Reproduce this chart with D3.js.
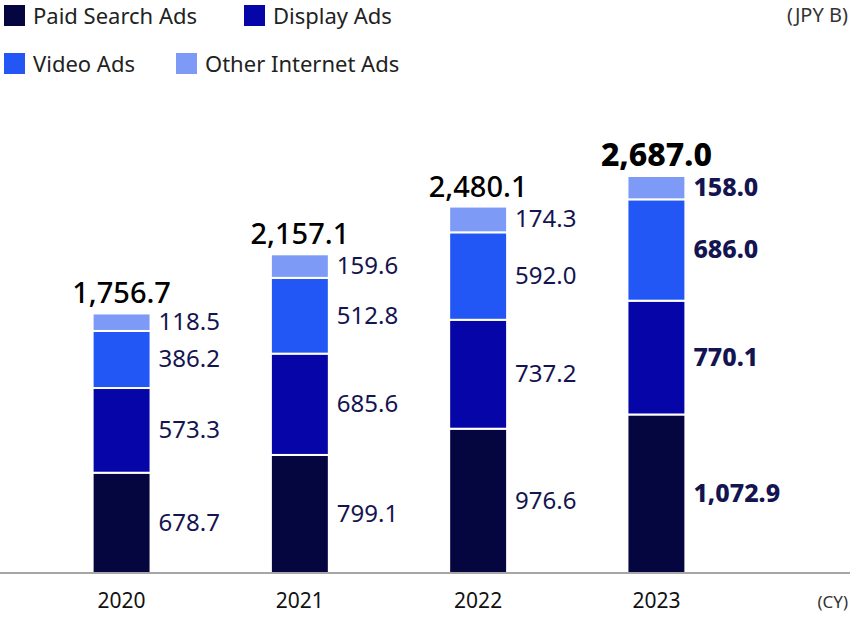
<!DOCTYPE html>
<html lang="en">
<head>
<meta charset="UTF-8">
<script src="https://d3js.org/d3.v7.min.js"></script>
<style>
  body { margin: 0; font-family: "Noto Sans", sans-serif; background: #fff; }
</style>
</head>
<body>
<svg id="chart" width="850" height="618"></svg>
<script>
// Data
const years = ["2020", "2021", "2022", "2023"];
const seriesNames = ["Paid Search Ads", "Display Ads", "Video Ads", "Other Internet Ads"];
const paidSearch = [678.7, 799.1, 976.6, 1072.9];
const display = [573.3, 685.6, 737.2, 770.1];
const video = [386.2, 512.8, 592.0, 686.0];
const other = [118.5, 159.6, 174.3, 158.0];
const totals = [1756.7, 2157.1, 2480.1, 2687.0];

const colors = ["#05053f", "#0505a8", "#2257f5", "#7d9bf6"];
const fmt = d3.format(",.1f");

const svg = d3.select("#chart");
const baseline = 573;

const x = d3.scaleBand().domain(years).range([32, 746]).paddingInner(0.675).paddingOuter(0.34);
const y = d3.scaleLinear().domain([0, 2687]).range([baseline, 176]);

const data = years.map((yr, i) => ({ year: yr, s0: paidSearch[i], s1: display[i], s2: video[i], s3: other[i] }));
const stacked = d3.stack().keys(["s0", "s1", "s2", "s3"])(data);

// Bars
stacked.forEach((layer, li) => {
  svg.append("g").attr("fill", colors[li])
    .selectAll("rect").data(layer).enter().append("rect")
    .attr("x", d => x(d.data.year))
    .attr("y", d => y(d[1]))
    .attr("width", x.bandwidth())
    .attr("height", d => y(d[0]) - y(d[1]))
    .attr("stroke", "#fff").attr("stroke-width", 2);

  svg.append("g").selectAll("text").data(layer).enter().append("text")
    .attr("x", d => x(d.data.year) + x.bandwidth() + 8)
    .attr("y", d => (y(d[0]) + y(d[1])) / 2 + 8)
    .attr("font-size", (d, i) => i === 3 ? 25 : 24)
    .attr("fill", "#141450")
    .attr("font-weight", (d, i) => i === 3 ? 800 : 400)
    .text(d => fmt(d[1] - d[0]));
});

// Totals
svg.append("g").selectAll("text").data(totals).enter().append("text")
  .attr("x", (d, i) => x(years[i]) + x.bandwidth() / 2)
  .attr("y", (d, i) => y(d) - 10)
  .attr("text-anchor", "middle")
  .attr("font-size", (d, i) => i === 3 ? 32 : 29)
  .attr("font-weight", (d, i) => i === 3 ? 800 : 500)
  .attr("fill", "#000")
  .text(d => fmt(d));

// Axis
svg.append("line").attr("x1", 0).attr("x2", 850).attr("y1", baseline).attr("y2", baseline)
  .attr("stroke", "#888").attr("stroke-width", 1.5);
svg.append("g").selectAll("text").data(years).enter().append("text")
  .attr("x", d => x(d) + x.bandwidth() / 2)
  .attr("y", 608)
  .attr("text-anchor", "middle")
  .attr("font-size", 21).attr("fill", "#111")
  .text(d => d);
svg.append("text").attr("x", 848).attr("y", 608).attr("text-anchor", "end")
  .attr("font-size", 17).attr("fill", "#333").text("(CY)");
svg.append("text").attr("x", 848).attr("y", 22).attr("text-anchor", "end")
  .attr("font-size", 20).attr("fill", "#333").text("(JPY B)");

// Legend
const legendPos = [[4, 5], [244, 5], [4, 53], [176, 53]];
seriesNames.forEach((name, i) => {
  const g = svg.append("g").attr("transform", `translate(${legendPos[i][0]},${legendPos[i][1]})`);
  g.append("rect").attr("width", 21).attr("height", 21).attr("fill", colors[i]);
  g.append("text").attr("x", 29).attr("y", 19).attr("font-size", 22).attr("fill", "#222").text(name);
});
</script>
</body>
</html>
